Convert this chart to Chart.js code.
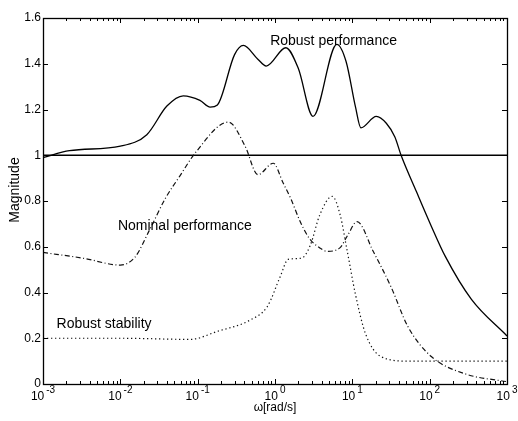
<!DOCTYPE html>
<html>
<head>
<meta charset="utf-8">
<script src="https://cdn.jsdelivr.net/npm/chart.js@4/dist/chart.umd.min.js"></script>
<style>
  body { margin: 0; background: #fff; }
  #wrap { width: 518px; height: 421px; }
</style>
</head>
<body>
<div id="wrap"><canvas id="bieudo"></canvas></div>
<script>
// frequency points (rad/s) and magnitudes for each curve
const rpFreq = [0.001, 0.0022, 0.01, 0.022, 0.04, 0.065, 0.107, 0.145, 0.18, 0.30, 0.39, 0.6, 0.77, 1.38, 2.0, 3.1, 6.3, 8.3, 11, 12.9, 20.4, 27.5, 35.5, 42.7, 67.6, 105, 158, 347, 1000];
const rpMag = [0.99, 1.02, 1.04, 1.09, 1.215, 1.26, 1.24, 1.21, 1.22, 1.44, 1.48, 1.42, 1.39, 1.47, 1.38, 1.17, 1.485, 1.41, 1.21, 1.12, 1.17, 1.14, 1.08, 1.0, 0.84, 0.69, 0.56, 0.37, 0.21];

const npFreq = [0.001, 0.0033, 0.01, 0.0155, 0.024, 0.038, 0.059, 0.093, 0.25, 0.41, 0.6, 0.95, 1.27, 1.6, 2.15, 2.8, 3.8, 4.7, 6.9, 8.7, 11.5, 18.6, 31.6, 52.5, 105, 290, 1000];
const npMag = [0.575, 0.55, 0.52, 0.555, 0.675, 0.81, 0.91, 1.01, 1.145, 1.04, 0.915, 0.965, 0.88, 0.81, 0.705, 0.635, 0.595, 0.58, 0.595, 0.65, 0.71, 0.58, 0.425, 0.25, 0.12, 0.044, 0.01];

const rsFreq = [0.001, 0.01, 0.08, 0.18, 0.48, 0.8, 1.17, 1.48, 2.2, 2.85, 3.8, 5.5, 6.95, 8.6, 11, 14.8, 23.4, 52.5, 1000];
const rsMag = [0.2, 0.2, 0.195, 0.23, 0.28, 0.34, 0.47, 0.545, 0.55, 0.605, 0.74, 0.82, 0.74, 0.58, 0.39, 0.22, 0.12, 0.1, 0.1];

// reference level at magnitude 1
const unityFreq = [0.001, 1000];
const unityMag = [1, 1];

const decades = [-3, -2, -1, 0, 1, 2, 3];
const magTicks = [0, 0.2, 0.4, 0.6, 0.8, 1, 1.2, 1.4, 1.6];

// curve names written next to the curves
const notes = [
  { text: "Robust performance", freq: 0.865, mag: 1.5 },
  { text: "Nominal performance", freq: 0.0093, mag: 0.69 },
  { text: "Robust stability", freq: 0.0015, mag: 0.262 },
];

const FONT = "'Liberation Sans', Arial, sans-serif";
Chart.defaults.font.family = FONT;

const pts = (fs, ms) => fs.map((f, i) => ({ x: f, y: ms[i] }));

// box, inward ticks, decade labels and texts
const frame = {
  id: "frame",
  afterDraw(chart) {
    const { ctx, chartArea: a } = chart;
    const xs = chart.scales.x;
    const ys = chart.scales.y;
    ctx.save();
    ctx.strokeStyle = "#000";
    ctx.lineWidth = 1;
    ctx.beginPath();
    for (let e = -3; e < 3; e++) {
      for (let k = 1; k < 10; k++) {
        const px = Math.round(xs.getPixelForValue(k * Math.pow(10, e))) + 0.5;
        const len = k === 1 ? 5 : 3;
        ctx.moveTo(px, a.bottom);
        ctx.lineTo(px, a.bottom - len);
        ctx.moveTo(px, a.top);
        ctx.lineTo(px, a.top + len);
      }
    }
    magTicks.forEach((v) => {
      const py = Math.round(ys.getPixelForValue(v)) + 0.5;
      ctx.moveTo(a.left, py);
      ctx.lineTo(a.left + 5, py);
      ctx.moveTo(a.right, py);
      ctx.lineTo(a.right - 5, py);
    });
    ctx.stroke();
    ctx.lineWidth = 1.3;
    ctx.strokeRect(Math.round(a.left) + 0.5, Math.round(a.top) + 0.5, Math.round(a.width), Math.round(a.height));

    // 10^n labels
    ctx.fillStyle = "#000";
    ctx.textBaseline = "alphabetic";
    ctx.textAlign = "left";
    decades.forEach((e) => {
      const px = xs.getPixelForValue(Math.pow(10, e));
      ctx.font = "12px " + FONT;
      const wBase = ctx.measureText("10").width;
      ctx.font = "10px " + FONT;
      const exp = String(e);
      const wExp = ctx.measureText(exp).width;
      const x0 = px - (wBase + wExp + 2) / 2;
      ctx.font = "12px " + FONT;
      ctx.fillText("10", x0, a.bottom + 16);
      ctx.font = "10px " + FONT;
      ctx.fillText(exp, x0 + wBase + 2, a.bottom + 9);
    });

    ctx.font = "12px " + FONT;
    ctx.textAlign = "center";
    ctx.fillText("ω[rad/s]", (a.left + a.right) / 2, a.bottom + 27);

    ctx.save();
    ctx.font = "14px " + FONT;
    ctx.translate(15, 190);
    ctx.rotate(-Math.PI / 2);
    ctx.textBaseline = "middle";
    ctx.fillText("Magnitude", 0, 0);
    ctx.restore();

    ctx.font = "14px " + FONT;
    ctx.textAlign = "left";
    ctx.textBaseline = "middle";
    notes.forEach((n) => {
      ctx.fillText(n.text, xs.getPixelForValue(n.freq), ys.getPixelForValue(n.mag));
    });
    ctx.restore();
  },
};

new Chart(document.getElementById("bieudo"), {
  type: "line",
  data: {
    datasets: [
      {
        label: "Robust performance",
        data: pts(rpFreq, rpMag),
        borderColor: "#000",
        borderWidth: 1.3,
      },
      {
        label: "Nominal performance",
        data: pts(npFreq, npMag),
        borderColor: "#111",
        borderWidth: 1.2,
        borderDash: [5, 2.5, 1, 2.5],
      },
      {
        label: "Robust stability",
        data: pts(rsFreq, rsMag),
        borderColor: "#111",
        borderWidth: 1.2,
        borderDash: [1.3, 2.7],
      },
      {
        label: "1",
        data: pts(unityFreq, unityMag),
        borderColor: "#000",
        borderWidth: 1.3,
      },
    ],
  },
  options: {
    responsive: true,
    maintainAspectRatio: false,
    animation: false,
    events: [],
    elements: {
      point: { radius: 0 },
      line: { cubicInterpolationMode: "monotone", fill: false },
    },
    layout: { padding: { top: 18, right: 11, left: 0, bottom: 0 } },
    scales: {
      x: {
        type: "logarithmic",
        min: 0.001,
        max: 1000,
        grid: { display: false, drawTicks: false },
        border: { display: false },
        ticks: { display: false },
        afterFit(s) {
          s.height = 37;
        },
      },
      y: {
        min: 0,
        max: 1.6,
        grid: { display: false, drawTicks: false },
        border: { display: false },
        ticks: {
          stepSize: 0.2,
          padding: 2,
          color: "#000",
          font: { size: 12 },
          callback: (v) => String(Math.round(v * 10) / 10),
        },
        afterFit(s) {
          s.width = 43;
        },
      },
    },
    plugins: {
      legend: { display: false },
      tooltip: { enabled: false },
    },
  },
  plugins: [frame],
});
</script>
</body>
</html>
